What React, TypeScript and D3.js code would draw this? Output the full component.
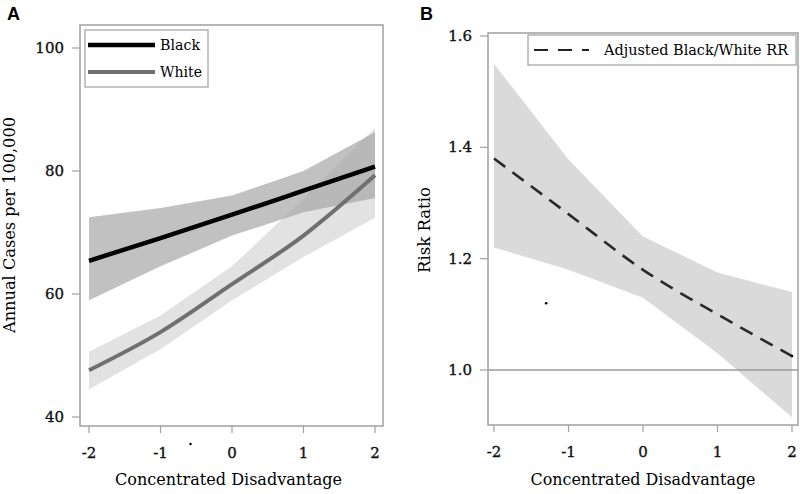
import React from "react";
import * as d3 from "d3";

const xVals = [-2, -1, 0, 1, 2];
const xTicks = [-2, -1, 0, 1, 2];
const xTickLabels = ["-2", "-1", "0", "1", "2"];

// Panel A
const blackRate = [65.4, 69.1, 72.9, 76.8, 80.7];
const blackLower = [59.0, 64.5, 69.5, 73.3, 75.6];
const blackUpper = [72.5, 74.0, 76.0, 80.0, 86.3];
const whiteRate = [47.6, 53.8, 61.6, 69.5, 79.3];
const whiteLower = [44.5, 51.0, 59.0, 66.0, 72.4];
const whiteUpper = [50.6, 56.5, 64.5, 75.5, 87.0];
const yTicksA = [40, 60, 80, 100];
const strayA = [{ x: -0.58, y: 35.6 }];

// Panel B
const rr = [1.38, 1.28, 1.18, 1.1, 1.025];
const rrLower = [1.22, 1.18, 1.13, 1.03, 0.915];
const rrUpper = [1.55, 1.378, 1.24, 1.175, 1.14];
const yTicksB = [1.0, 1.2, 1.4, 1.6];
const yTickLabelsB = ["1.0", "1.2", "1.4", "1.6"];
const strayB = [{ x: -1.3, y: 1.12 }, { x: 2.0, y: 1.025 }];

const serif = "'DejaVu Serif', 'Liberation Serif', serif";
const sans = "'Liberation Sans', Arial, sans-serif";
const frameColor = "#a0a0a0";

export default function App() {
  // Panel A geometry
  const aL = 80, aR = 383, aT = 25, aB = 426;
  const xA = d3.scaleLinear().domain([-2, 2]).range([89, 375]);
  const yA = d3.scaleLinear().domain([40, 100]).range([417, 48]);
  // Panel B geometry
  const bL = 488, bR = 798, bT = 33, bB = 425;
  const xB = d3.scaleLinear().domain([-2, 2]).range([494, 792]);
  const yB = d3.scaleLinear().domain([1.0, 1.6]).range([370, 36]);

  const bandA = (lo: number[], hi: number[]) =>
    d3
      .area<number>()
      .x((_, i) => xA(xVals[i]))
      .y0((_, i) => yA(lo[i]))
      .y1((_, i) => yA(hi[i]))
      .curve(d3.curveLinear)(xVals) || "";
  const lineA = (v: number[]) =>
    d3
      .line<number>()
      .x((_, i) => xA(xVals[i]))
      .y((_, i) => yA(v[i]))
      .curve(d3.curveMonotoneX)(xVals) || "";
  const bandB =
    d3
      .area<number>()
      .x((_, i) => xB(xVals[i]))
      .y0((_, i) => yB(rrLower[i]))
      .y1((_, i) => yB(rrUpper[i]))
      .curve(d3.curveLinear)(xVals) || "";
  const lineB =
    d3
      .line<number>()
      .x((_, i) => xB(xVals[i]))
      .y((_, i) => yB(rr[i]))
      .curve(d3.curveMonotoneX)(xVals) || "";

  const tickText = { fontFamily: serif, fontSize: 15, fill: "#111", stroke: "#111", strokeWidth: 0.35 };

  return (
    <svg width={800} height={494} style={{ position: "absolute", left: 0, top: 0, background: "#fff" }}>
      <rect x={0} y={0} width={800} height={494} fill="#fff" />
      {/* Panel labels */}
      <text x={7} y={20} fontFamily={sans} fontWeight="bold" fontSize={18} fill="#000">A</text>
      <text x={420} y={20} fontFamily={sans} fontWeight="bold" fontSize={18} fill="#000">B</text>

      {/* ===== Panel A ===== */}
      <clipPath id="clipA">
        <rect x={aL} y={aT} width={aR - aL} height={aB - aT} />
      </clipPath>
      <g clipPath="url(#clipA)">
        <path d={bandA(whiteLower, whiteUpper)} fill="#e2e2e2" />
        <path d={bandA(blackLower, blackUpper)} fill="#a4a4a4" opacity={0.68} />
        <path d={lineA(whiteRate)} fill="none" stroke="#707070" strokeWidth={4} />
        <path d={lineA(blackRate)} fill="none" stroke="#000" strokeWidth={4.5} />
      </g>
      <rect x={aL} y={aT} width={aR - aL} height={aB - aT} fill="none" stroke={frameColor} strokeWidth={1.5} />
      {yTicksA.map((t) => (
        <g key={"ya" + t}>
          <line x1={aL - 8} x2={aL} y1={yA(t)} y2={yA(t)} stroke={frameColor} strokeWidth={1.2} />
          <text x={aL - 16} y={yA(t) + 5} textAnchor="end" {...tickText}>{t}</text>
        </g>
      ))}
      {xTicks.map((t, i) => (
        <g key={"xa" + t}>
          <line x1={xA(t)} x2={xA(t)} y1={aB} y2={aB + 7} stroke={frameColor} strokeWidth={1.2} />
          <text x={xA(t)} y={aB + 32} textAnchor="middle" {...tickText}>{xTickLabels[i]}</text>
        </g>
      ))}
      {strayA.map((p, i) => (
        <circle key={"sa" + i} cx={xA(p.x)} cy={yA(p.y)} r={1.2} fill="#000" />
      ))}
      <text x={(aL + aR) / 2 - 3} y={485} textAnchor="middle" fontFamily={serif} fontSize={16} textLength={227} lengthAdjust="spacingAndGlyphs" fill="#000">
        Concentrated Disadvantage
      </text>
      <text
        transform={`translate(15, 225) rotate(-90)`}
        textAnchor="middle"
        fontFamily={serif}
        fontSize={16}
        textLength={216}
        lengthAdjust="spacingAndGlyphs"
        fill="#000"
      >
        Annual Cases per 100,000
      </text>
      {/* Legend A */}
      <rect x={85} y={30} width={123} height={57} fill="#fff" stroke={frameColor} strokeWidth={1.2} />
      <line x1={88} x2={155} y1={45} y2={45} stroke="#000" strokeWidth={4.5} />
      <text x={160} y={50} fontFamily={serif} fontSize={14} textLength={40} lengthAdjust="spacingAndGlyphs" fill="#000">Black</text>
      <line x1={88} x2={155} y1={72} y2={72} stroke="#707070" strokeWidth={4} />
      <text x={160} y={77} fontFamily={serif} fontSize={14} textLength={42} lengthAdjust="spacingAndGlyphs" fill="#000">White</text>

      {/* ===== Panel B ===== */}
      <clipPath id="clipB">
        <rect x={bL} y={bT} width={bR - bL} height={bB - bT} />
      </clipPath>
      <g clipPath="url(#clipB)">
        <path d={bandB} fill="#dadada" />
        <line x1={bL} x2={bR} y1={yB(1.0)} y2={yB(1.0)} stroke="#9a9a9a" strokeWidth={1.5} />
        <path d={lineB} fill="none" stroke="#2a2a2a" strokeWidth={2.6} strokeDasharray="14,9" />
      </g>
      <rect x={bL} y={bT} width={bR - bL} height={bB - bT} fill="none" stroke={frameColor} strokeWidth={1.5} />
      {yTicksB.map((t, i) => (
        <g key={"yb" + t}>
          <line x1={bL - 8} x2={bL} y1={yB(t)} y2={yB(t)} stroke={frameColor} strokeWidth={1.2} />
          <text x={bL - 16} y={yB(t) + 5} textAnchor="end" {...tickText}>{yTickLabelsB[i]}</text>
        </g>
      ))}
      {xTicks.map((t, i) => (
        <g key={"xb" + t}>
          <line x1={xB(t)} x2={xB(t)} y1={bB} y2={bB + 7} stroke={frameColor} strokeWidth={1.2} />
          <text x={xB(t)} y={bB + 32} textAnchor="middle" {...tickText}>{xTickLabels[i]}</text>
        </g>
      ))}
      {strayB.map((p, i) => (
        <circle key={"sb" + i} cx={xB(p.x)} cy={yB(p.y)} r={1.3} fill="#000" />
      ))}
      <text x={(bL + bR) / 2} y={485} textAnchor="middle" fontFamily={serif} fontSize={16} textLength={225} lengthAdjust="spacingAndGlyphs" fill="#000">
        Concentrated Disadvantage
      </text>
      <text
        transform={`translate(430, 230) rotate(-90)`}
        textAnchor="middle"
        fontFamily={serif}
        fontSize={16}
        textLength={86}
        lengthAdjust="spacingAndGlyphs"
        fill="#000"
      >
        Risk Ratio
      </text>
      {/* Legend B */}
      <rect x={528} y={35} width={268} height={30} fill="#fff" stroke={frameColor} strokeWidth={1.2} />
      <line x1={534} x2={589} y1={50} y2={50} stroke="#222" strokeWidth={2.2} strokeDasharray="14,10" />
      <text x={604} y={55} fontFamily={serif} fontSize={14} textLength={184} lengthAdjust="spacingAndGlyphs" fill="#000">
        Adjusted Black/White RR
      </text>
    </svg>
  );
}
